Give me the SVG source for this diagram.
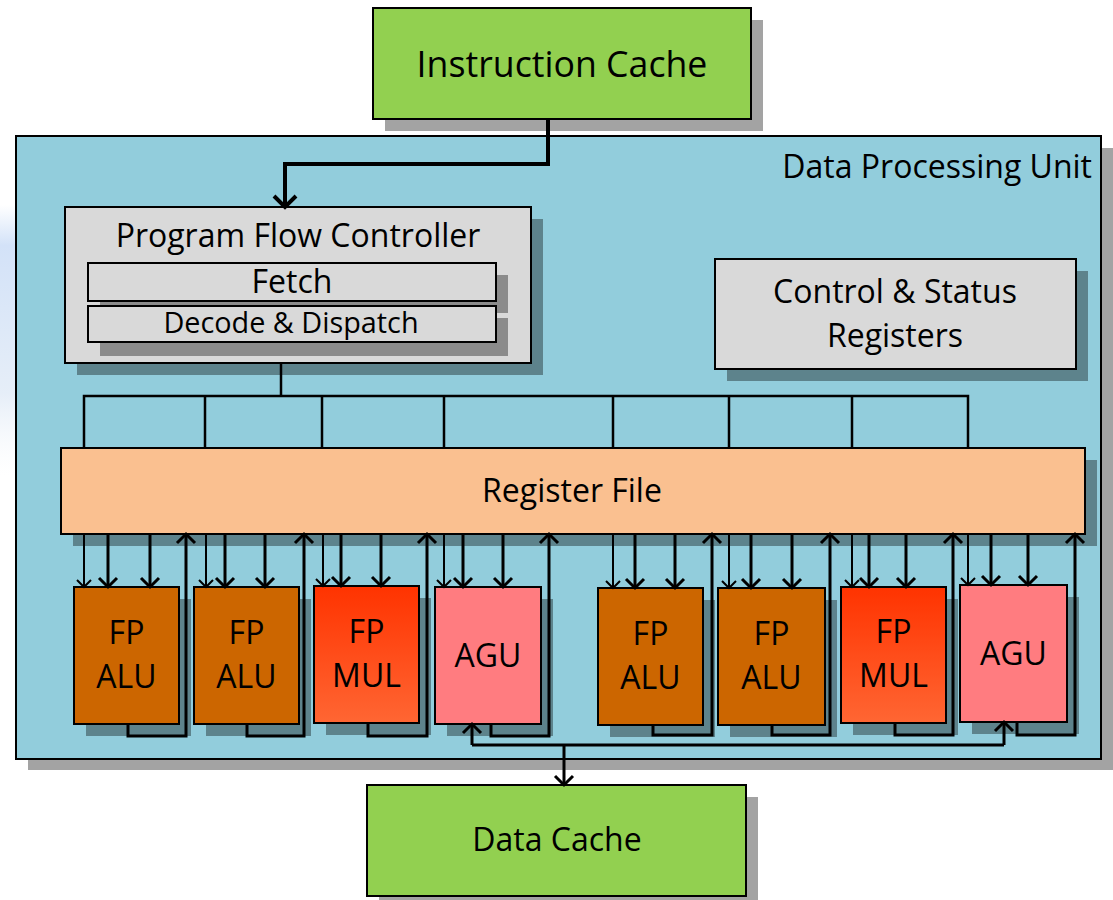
<svg xmlns="http://www.w3.org/2000/svg" width="1113" height="900" viewBox="0 0 1113 900">
  <defs>
    <style>
      text { font-family: "Open Sans", "Liberation Sans", sans-serif; fill: #000; }
      .shadow { fill: #000; fill-opacity: 0.36; stroke: none; }
      .box { stroke: #000; stroke-width: 2; }
      .cache { fill: #92d050; }
      .grey { fill: #d9d9d9; }
      .alu { fill: #cc6600; }
      .agu { fill: #ff7c80; }
      .lbl { font-size: 32px; text-anchor: middle; }
      .lbl.big { font-size: 35.7px; }
      .lbl.small { font-size: 28.8px; }
      .wire { fill: none; stroke: #000; stroke-width: 3; }
      .thin { fill: none; stroke: #000; stroke-width: 2; }
      .bus { fill: none; stroke: #000; stroke-width: 2.5; }
    </style>
    <linearGradient id="mulFill" x1="0" y1="0" x2="0" y2="1">
      <stop offset="0" stop-color="#ff3300"/>
      <stop offset="1" stop-color="#ff6633"/>
    </linearGradient>
    <linearGradient id="haze" x1="0" y1="0" x2="0" y2="1">
      <stop offset="0" stop-color="#d3e2f8" stop-opacity="0"/>
      <stop offset="0.15" stop-color="#d3e2f8"/>
      <stop offset="0.7" stop-color="#e6eef8"/>
      <stop offset="1" stop-color="#f4f7fb" stop-opacity="0"/>
    </linearGradient>
    <marker id="ah" viewBox="-12 -12 24 24" refX="0" refY="0" markerWidth="24" markerHeight="24" markerUnits="userSpaceOnUse" orient="auto">
      <path d="M-9,-9 L0,0 L-9,9" fill="none" stroke="#000" stroke-width="3"/>
    </marker>
    <marker id="ahs" viewBox="-12 -12 24 24" refX="0" refY="0" markerWidth="24" markerHeight="24" markerUnits="userSpaceOnUse" orient="auto">
      <path d="M-7,-7 L0,0 L-7,7" fill="none" stroke="#000" stroke-width="2"/>
    </marker>
    <marker id="ahb" viewBox="-14 -14 28 28" refX="0" refY="0" markerWidth="28" markerHeight="28" markerUnits="userSpaceOnUse" orient="auto">
      <path d="M-11,-11 L0,0 L-11,11" fill="none" stroke="#000" stroke-width="4"/>
    </marker>
  </defs>

  <!-- faint backdrop at the left margin -->
  <rect x="0" y="205" width="16" height="270" fill="url(#haze)"/>

  <!-- Data Processing Unit container -->
  <g id="dpu">
    <rect class="shadow" x="28" y="148" width="1085" height="622"/>
    <rect class="box" x="16" y="136" width="1085" height="623" fill="#92cddc"/>
    <text x="1092" y="178" font-size="32" text-anchor="end">Data Processing Unit</text>
  </g>

  <g id="instruction-cache">
    <rect class="shadow" x="385" y="20" width="378" height="111"/>
    <rect class="box cache" x="373" y="8" width="378" height="111"/>
    <text class="lbl big" x="562" y="77">Instruction Cache</text>
  </g>

  <g id="program-flow-controller">
    <rect class="shadow" x="77" y="219" width="466" height="156"/>
    <rect class="box grey" x="65" y="207" width="466" height="156"/>
    <text class="lbl" x="298" y="247">Program Flow Controller</text>
    <g id="fetch">
      <rect class="shadow" x="100" y="275" width="408" height="38"/>
      <rect class="box grey" x="88" y="263" width="408" height="38"/>
      <text class="lbl" x="292" y="293">Fetch</text>
    </g>
    <g id="decode-dispatch">
      <rect class="shadow" x="100" y="318" width="408" height="38"/>
      <rect class="box grey" x="88" y="306" width="408" height="36"/>
      <text class="lbl small" x="291" y="333">Decode &amp; Dispatch</text>
    </g>
  </g>

  <g id="control-status-registers">
    <rect class="shadow" x="727" y="271" width="361" height="110"/>
    <rect class="box grey" x="715" y="259" width="361" height="110"/>
    <text class="lbl" x="895" y="303">Control &amp; Status</text>
    <text class="lbl" x="895" y="347">Registers</text>
  </g>

  <g id="register-file">
    <rect class="shadow" x="73" y="460" width="1024" height="86"/>
    <rect class="box" x="61" y="448" width="1024" height="86" fill="#fac090"/>
    <text class="lbl" x="572" y="502">Register File</text>
  </g>

  <!-- execution units -->
  <g id="fp-alu-1">
    <rect class="shadow" x="86" y="599" width="105" height="137"/>
    <rect class="box alu" x="74" y="587" width="105" height="137"/>
    <text class="lbl" x="126.5" y="644">FP</text>
    <text class="lbl" x="126.5" y="688">ALU</text>
  </g>
  <g id="fp-alu-2">
    <rect class="shadow" x="206" y="599" width="105" height="137"/>
    <rect class="box alu" x="194" y="587" width="105" height="137"/>
    <text class="lbl" x="246.5" y="644">FP</text>
    <text class="lbl" x="246.5" y="688">ALU</text>
  </g>
  <g id="fp-mul-1">
    <rect class="shadow" x="326" y="598" width="105" height="137"/>
    <rect class="box" x="314" y="586" width="105" height="137" fill="url(#mulFill)"/>
    <text class="lbl" x="366.5" y="643">FP</text>
    <text class="lbl" x="366.5" y="687">MUL</text>
  </g>
  <g id="agu-1">
    <rect class="shadow" x="447" y="599" width="106" height="137"/>
    <rect class="box agu" x="435" y="587" width="106" height="137"/>
    <text class="lbl" x="488" y="667">AGU</text>
  </g>
  <g id="fp-alu-3">
    <rect class="shadow" x="610" y="600" width="105" height="137"/>
    <rect class="box alu" x="598" y="588" width="105" height="137"/>
    <text class="lbl" x="650.5" y="645">FP</text>
    <text class="lbl" x="650.5" y="689">ALU</text>
  </g>
  <g id="fp-alu-4">
    <rect class="shadow" x="730" y="600" width="107" height="137"/>
    <rect class="box alu" x="718" y="588" width="107" height="137"/>
    <text class="lbl" x="771.5" y="645">FP</text>
    <text class="lbl" x="771.5" y="689">ALU</text>
  </g>
  <g id="fp-mul-2">
    <rect class="shadow" x="853" y="599" width="105" height="136"/>
    <rect class="box" x="841" y="587" width="105" height="136" fill="url(#mulFill)"/>
    <text class="lbl" x="893.5" y="643">FP</text>
    <text class="lbl" x="893.5" y="687">MUL</text>
  </g>
  <g id="agu-2">
    <rect class="shadow" x="972" y="597" width="107" height="137"/>
    <rect class="box agu" x="960" y="585" width="107" height="137"/>
    <text class="lbl" x="1013.5" y="665">AGU</text>
  </g>

  <g id="data-cache">
    <rect class="shadow" x="379" y="797" width="379" height="111"/>
    <rect class="box cache" x="367" y="785" width="379" height="111"/>
    <text class="lbl" x="557" y="851">Data Cache</text>
  </g>

  <!-- connectors -->
  <g id="connectors">
    <!-- instruction fetch path -->
    <path d="M548,119 V164 H285 V207" fill="none" stroke="#000" stroke-width="4" marker-end="url(#ahb)"/>

    <!-- dispatch bus from the program flow controller -->
    <path class="bus" d="M281,363 V396"/>
    <path class="bus" d="M84,448 V396 H968 V448"/>
    <path class="bus" d="M205,396 V448 M322,396 V448 M444,396 V448 M613,396 V448 M729,396 V448 M852,396 V448"/>

    <!-- dispatch lines into each unit -->
    <path class="thin" d="M84,534 V587" marker-end="url(#ahs)"/>
    <path class="thin" d="M206,534 V587" marker-end="url(#ahs)"/>
    <path class="thin" d="M323,534 V586" marker-end="url(#ahs)"/>
    <path class="thin" d="M444,534 V587" marker-end="url(#ahs)"/>
    <path class="thin" d="M613,534 V588" marker-end="url(#ahs)"/>
    <path class="thin" d="M729,534 V588" marker-end="url(#ahs)"/>
    <path class="thin" d="M852,534 V587" marker-end="url(#ahs)"/>
    <path class="thin" d="M968,534 V585" marker-end="url(#ahs)"/>

    <!-- operand reads -->
    <path class="wire" d="M108,534 V587" marker-end="url(#ah)"/>
    <path class="wire" d="M150,534 V587" marker-end="url(#ah)"/>
    <path class="wire" d="M225,534 V587" marker-end="url(#ah)"/>
    <path class="wire" d="M265,534 V587" marker-end="url(#ah)"/>
    <path class="wire" d="M341,534 V586" marker-end="url(#ah)"/>
    <path class="wire" d="M381,534 V586" marker-end="url(#ah)"/>
    <path class="wire" d="M463,534 V587" marker-end="url(#ah)"/>
    <path class="wire" d="M503,534 V587" marker-end="url(#ah)"/>
    <path class="wire" d="M635,534 V588" marker-end="url(#ah)"/>
    <path class="wire" d="M675,534 V588" marker-end="url(#ah)"/>
    <path class="wire" d="M751,534 V588" marker-end="url(#ah)"/>
    <path class="wire" d="M792,534 V588" marker-end="url(#ah)"/>
    <path class="wire" d="M869,534 V587" marker-end="url(#ah)"/>
    <path class="wire" d="M906,534 V587" marker-end="url(#ah)"/>
    <path class="wire" d="M991,534 V585" marker-end="url(#ah)"/>
    <path class="wire" d="M1028,534 V585" marker-end="url(#ah)"/>

    <!-- result write-back loops -->
    <path class="wire" d="M128,724 V736 H186 V534" marker-end="url(#ah)"/>
    <path class="wire" d="M247,724 V736 H304 V534" marker-end="url(#ah)"/>
    <path class="wire" d="M368,723 V736 H427 V534" marker-end="url(#ah)"/>
    <path class="wire" d="M491,724 V736 H549 V534" marker-end="url(#ah)"/>
    <path class="wire" d="M653,725 V735 H712 V534" marker-end="url(#ah)"/>
    <path class="wire" d="M772,725 V735 H830 V534" marker-end="url(#ah)"/>
    <path class="wire" d="M895,723 V735 H953 V534" marker-end="url(#ah)"/>
    <path class="wire" d="M1017,722 V735 H1075 V534" marker-end="url(#ah)"/>

    <!-- address bus between the AGUs and the data cache -->
    <path class="wire" d="M472,745 H1004"/>
    <path class="wire" d="M472,745 V724" marker-end="url(#ah)"/>
    <path class="wire" d="M1004,745 V722" marker-end="url(#ah)"/>
    <path class="wire" d="M564,745 V785" marker-end="url(#ah)"/>
  </g>
</svg>
